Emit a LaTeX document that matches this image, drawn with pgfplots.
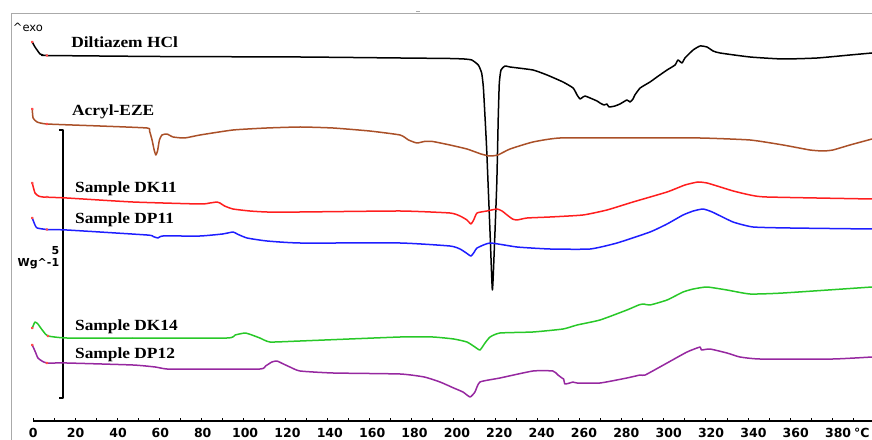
\documentclass[border=0pt]{standalone}
\usepackage{fontspec}
\setmainfont{Liberation Serif}
\newfontfamily\dejavu{DejaVu Sans}
\usepackage{pgfplots}
\pgfplotsset{compat=1.18}
\definecolor{cbrown}{RGB}{170,80,40}
\definecolor{cred}{RGB}{255,30,30}
\definecolor{cblue}{RGB}{30,30,255}
\definecolor{cgreen}{RGB}{40,200,40}
\definecolor{cpurple}{RGB}{150,40,160}
\definecolor{cframe}{RGB}{170,170,170}
\begin{document}
\begin{tikzpicture}
\begin{axis}[
  scale only axis, width=838.7pt, height=407pt,
  xmin=0, xmax=399, ymin=-421, ymax=-14,
  axis x line=bottom, axis y line=none,
  x axis line style={-, line width=1.2pt, black},
  xtick={0,20.15,40.30,60.46,80.61,100.76,120.91,141.06,161.22,181.37,201.52,221.67,241.82,261.98,282.13,302.28,322.43,342.58,362.74,382.89},
  xticklabels={0,20,40,60,80,100,120,140,160,180,200,220,240,260,280,300,320,340,360,380},
  major tick length=0pt,
  minor xtick={0,10,...,390},
  minor tick length=3pt, tick align=inside,
  minor tick style={line width=0.9pt, black},
  xticklabel style={font=\dejavu\bfseries\fontsize{12.5}{14}\selectfont, anchor=north, yshift=-3.5pt},
  ytick=\empty,
  clip=false,
  every axis plot/.append style={line width=1.5pt, line join=round},
  curve/.style={smooth, tension=0.3},
]
% frame
\addplot[cframe, line width=1pt] coordinates {(-10.6,-445)(-10.6,-14)(399,-14)};
\addplot[cframe, line width=0.8pt] coordinates {(182.3,-11.7)(183.8,-11.7)};
% scale bar
\addplot[black, line width=1.3pt] coordinates {(12.2,-130)(14.1,-130)(14.1,-398)(12.2,-398)};
% Diltiazem HCl
\addplot[black, curve] coordinates {(-0.5,-42)(0.8,-47)(1.8,-50)(3.2,-54)(4.6,-55)(6.5,-55.5)(60,-56.5)(126.9,-57)(174.5,-58)(198.2,-58.5)(205,-59)(208.6,-60)(211.7,-65)(213.3,-73)(214.1,-87)(214.9,-117)(215.7,-150)(217.3,-233)(218.4,-290)(219.3,-250)(220.5,-183)(221.2,-117)(221.7,-83)(222.5,-70)(224.4,-66)(226.8,-67)(237.7,-70)(244.4,-75)(252,-82)(256.8,-88)(258.7,-95)(260.1,-99)(261.5,-97)(262.5,-96)(264.9,-98)(268.2,-101)(269.6,-103)(271.5,-105)(272.9,-104)(273.9,-107)(276.7,-106)(279.1,-104)(282.4,-100)(283.9,-102)(285.3,-99)(286.2,-95)(288.7,-88)(293.4,-82)(296.7,-77)(301.5,-70)(305.3,-65)(306.7,-60)(308.6,-63)(310,-58)(313.9,-50)(317.2,-46)(320.5,-47)(323.4,-51)(326.7,-53)(341,-57)(356.7,-59)(372.9,-58)(388.5,-55)(399,-53)};
% Acryl-EZE
\addplot[cbrown, curve] coordinates {(-0.5,-109)(-0.1,-118)(1.8,-122)(6.5,-124)(31.7,-126)(54.1,-128)(55.3,-131)(56.5,-140)(57.5,-150)(58.3,-155)(59.1,-151)(60.0,-140)(61.2,-135)(63.6,-134)(66.5,-137)(72,-138)(79.3,-135)(95,-130)(111,-128)(127,-127)(142.6,-128)(160,-131)(174.5,-135)(178.5,-140)(182.5,-143)(186,-141.5)(190,-141.5)(198.2,-145)(206.3,-149)(213,-154)(217,-156)(221,-155)(226.8,-149)(237.7,-142)(250.6,-138)(285.3,-138)(317.2,-138)(341,-140)(356.7,-145)(369.5,-150)(375.7,-151)(380.4,-150)(388.5,-145)(399,-139)};
% DK11
\addplot[cred, curve] coordinates {(-0.5,-183)(0.8,-193)(2.5,-196)(4.6,-197)(16,-198)(47.4,-202)(79.3,-204)(84,-203)(87.4,-202)(88.8,-203)(91,-206)(95,-209)(103,-211)(111.2,-212)(126.9,-212)(174.5,-211)(198.2,-213)(203,-216)(206.3,-220)(208.2,-224)(209.5,-220)(211.1,-213)(215.8,-211)(220.6,-209)(223,-211)(225.4,-215)(228,-219)(230.1,-220)(234.9,-218)(245.8,-217)(261.5,-215)(272.9,-210)(285.3,-202)(301.5,-192)(310,-185)(316.2,-182)(320.5,-183)(325.3,-186)(333,-191)(341,-195)(349,-197)(399,-199)};
% DP11
\addplot[cblue, curve] coordinates {(-0.5,-218)(0.8,-225)(1.8,-228)(6.5,-229.5)(16,-230)(54.1,-235)(57,-236.5)(59.3,-238)(61.7,-236)(79.3,-236)(90,-234)(95,-232)(97,-234)(101.7,-238)(111.2,-241)(126.9,-243)(174.5,-243)(198.2,-246)(203,-249)(206,-253)(208.2,-256)(209.8,-252)(211.1,-248)(217.3,-243)(230.1,-247)(245.8,-249)(264.9,-249)(277.7,-243)(293.4,-232)(301.5,-224)(309.1,-215)(314,-211)(318.6,-209)(323,-212)(332.9,-222)(342.4,-227)(360,-228)(399,-229)};
% DK14
\addplot[cgreen, curve] coordinates {(-0.5,-328)(0.8,-322)(2.2,-324)(3.2,-327)(5,-332)(7,-336)(16,-338)(47.4,-338)(92.1,-338)(96,-335)(100.7,-333)(104,-335)(107.8,-338)(112.6,-342)(126.9,-341)(174.5,-337)(190.1,-337)(200,-339)(206.3,-342)(210.1,-347)(212.5,-350)(214.9,-343)(217.3,-337)(222,-333)(237.7,-332)(252,-329)(258.7,-325)(269.6,-320)(282.4,-310)(288,-305)(290.2,-304)(293.4,-305)(301.5,-300)(309.1,-292)(314,-289)(320.5,-287)(330,-290)(341,-294)(356.7,-293)(399,-287)};
% DP12
\addplot[cpurple, curve] coordinates {(-0.5,-345)(1,-352)(2.2,-358)(4.1,-361)(6.5,-363)(16,-363)(47.4,-365)(58,-367)(63.6,-369)(79.3,-369)(107.8,-369)(110.5,-366)(113.5,-362)(115.9,-361)(119,-364)(122.1,-367)(126.9,-371)(142.6,-373)(174.5,-374)(186,-377)(193.5,-382)(200,-388)(204.4,-392)(207.8,-397)(210.1,-392)(212.5,-382)(222,-378)(237.7,-371)(247.2,-371)(249.6,-375)(251.5,-378)(252.3,-379)(252.9,-384)(255.2,-383)(256.8,-382)(258.7,-383)(269.6,-383)(282.4,-378)(288.7,-375)(291.1,-375)(301.5,-363)(311,-352)(317.2,-347)(317.8,-350)(321.9,-349)(330,-353)(336.2,-357)(345.7,-359)(380.4,-359)(399,-357)};
% start markers
\addplot[only marks, mark=*, mark size=0.7pt, red!70, draw=none] coordinates {(-0.5,-42)(6.5,-55.5)(-0.5,-109)(6.5,-124)(-0.5,-183)(6.5,-197)(-0.5,-218)(6.5,-229.5)(-0.5,-328)(7,-336)(-0.5,-345)(6.5,-363)};
% texts
\node[anchor=base west, inner sep=0, font=\bfseries\fontsize{15.5}{17}\selectfont, xscale=1.12] at (axis cs:18.0,-48) {Diltiazem HCl};
\node[anchor=base west, inner sep=0, font=\bfseries\fontsize{15.5}{17}\selectfont, xscale=1.12] at (axis cs:18.4,-115.5) {Acryl-EZE};
\node[anchor=base west, inner sep=0, font=\bfseries\fontsize{15.5}{17}\selectfont, xscale=1.12] at (axis cs:19.8,-192.7) {Sample DK11};
\node[anchor=base west, inner sep=0, font=\bfseries\fontsize{15.5}{17}\selectfont, xscale=1.12] at (axis cs:19.8,-224) {Sample DP11};
\node[anchor=base west, inner sep=0, font=\bfseries\fontsize{15.5}{17}\selectfont, xscale=1.12] at (axis cs:19.8,-330.7) {Sample DK14};
\node[anchor=base west, inner sep=0, font=\bfseries\fontsize{15.5}{17}\selectfont, xscale=1.12] at (axis cs:19.8,-358.3) {Sample DP12};
\node[anchor=base west, inner sep=0, font=\dejavu\fontsize{11.5}{13}\selectfont] at (axis cs:-9.8,-31.5) {\^{}exo};
\node[anchor=base east, inner sep=0, font=\dejavu\bfseries\fontsize{11}{13}\selectfont] at (axis cs:12.4,-255) {5};
\node[anchor=base east, inner sep=0, font=\dejavu\bfseries\fontsize{11}{13}\selectfont] at (axis cs:12.4,-267) {Wg\^{}-1};
\node[anchor=north, inner sep=0.333em, yshift=-3.5pt, font=\dejavu\bfseries\fontsize{12.5}{14}\selectfont] at (axis cs:394.2,-421) {°C};
\coordinate (bbsw) at (axis cs:-15.84,-439);
\coordinate (bbne) at (axis cs:399,0);
\end{axis}
\pgfresetboundingbox
\useasboundingbox (bbsw) rectangle (bbne);
\end{tikzpicture}
\end{document}
